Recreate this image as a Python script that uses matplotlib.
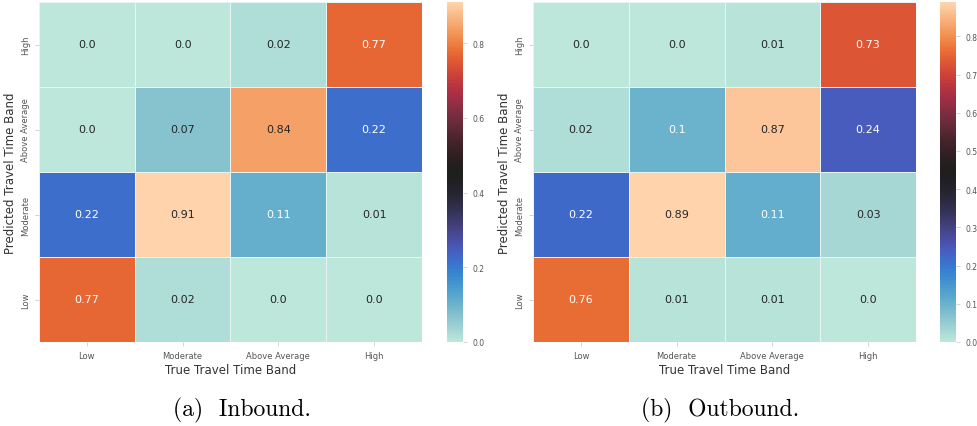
import numpy as np
import matplotlib
matplotlib.use("Agg")
import matplotlib.pyplot as plt
import seaborn as sns

# Confusion matrices (row = predicted band, top to bottom; column = true band)
BANDS = ["Low", "Moderate", "Above Average", "High"]
PRED_BANDS = ["High", "Above Average", "Moderate", "Low"]

INBOUND = [
    [0.0, 0.0, 0.02, 0.77],
    [0.0, 0.07, 0.84, 0.22],
    [0.22, 0.91, 0.11, 0.01],
    [0.77, 0.02, 0.0, 0.0],
]
OUTBOUND = [
    [0.0, 0.0, 0.01, 0.73],
    [0.02, 0.1, 0.87, 0.24],
    [0.22, 0.89, 0.11, 0.03],
    [0.76, 0.01, 0.01, 0.0],
]
CAPTIONS = ["(a)  Inbound.", "(b)  Outbound."]
CBAR_TICKS = [np.arange(0, 0.81, 0.2), np.arange(0, 0.81, 0.1)]

W, H = 978, 427
TICK_GREY = "#555555"


def px_box(x0, x1, top, bottom):
    return [x0 / W, (H - bottom) / H, (x1 - x0) / W, (bottom - top) / H]


fig = plt.figure(figsize=(W / 100, H / 100), dpi=100)

panels = [
    (INBOUND, px_box(39, 422, 3, 343), px_box(447, 463, 3, 343), 242),
    (OUTBOUND, px_box(533, 916, 3, 343), px_box(940, 956, 3, 343), 720),
]

for i, (mat, hm_box, cb_box, cap_x) in enumerate(panels):
    ax = fig.add_axes(hm_box)
    cax = fig.add_axes(cb_box)
    data = np.array(mat)
    # plain str() keeps "0.0" and "0.1" the way the rounded values print
    labels = np.array([[str(v) for v in row] for row in mat])
    sns.heatmap(data, ax=ax, cbar_ax=cax, cmap="icefire", annot=labels, fmt="",
                annot_kws={"fontsize": 8}, linewidths=0.6, linecolor="#e8f4f2",
                xticklabels=BANDS, yticklabels=PRED_BANDS,
                vmin=0, vmax=data.max())

    ax.set_xlabel("True Travel Time Band", fontsize=8.5, color="#333333", labelpad=2)
    ax.set_ylabel("Predicted Travel Time Band", fontsize=8.5, color="#333333", labelpad=3)
    ax.tick_params(axis="both", labelsize=6, colors=TICK_GREY, length=3, width=0.6,
                   color="#cccccc")
    for lbl in ax.get_yticklabels():
        lbl.set_rotation(90)
        lbl.set_va("center")

    cax.set_yticks(CBAR_TICKS[i])
    cax.set_yticklabels([f"{t:.1f}" for t in CBAR_TICKS[i]])
    cax.tick_params(labelsize=5.5, colors=TICK_GREY, length=3, width=0.6, color="#cccccc")
    for s in cax.spines.values():
        s.set_visible(False)

    fig.text(cap_x / W, (H - 410) / H, CAPTIONS[i], family="cmr10", fontsize=17,
             ha="center", va="center", color="black")

fig.savefig("out.png", dpi=100)
